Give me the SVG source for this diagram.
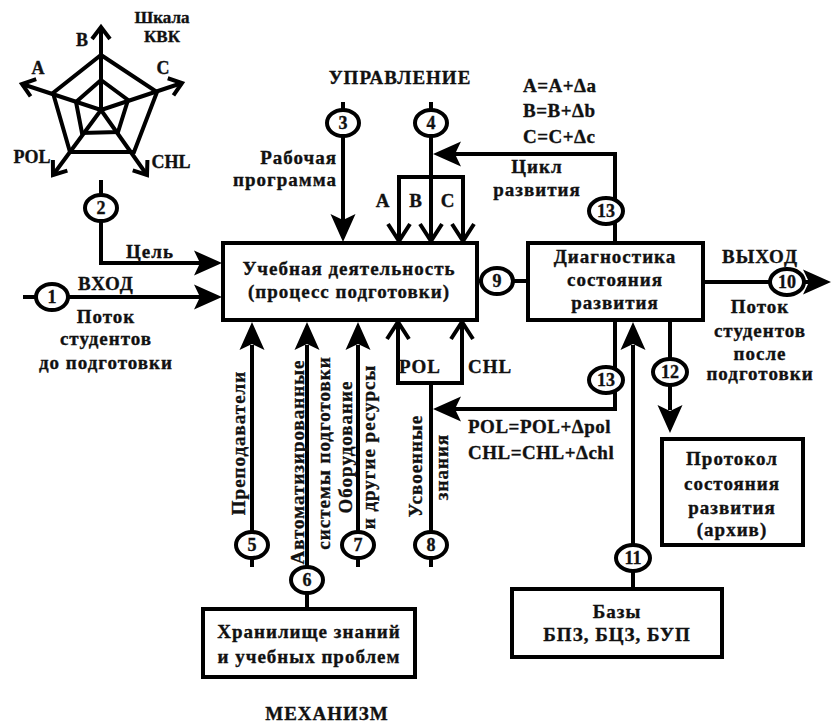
<svg xmlns="http://www.w3.org/2000/svg" width="832" height="724" viewBox="0 0 832 724">
<style>
.ln{stroke:#000;stroke-width:4;fill:none}
.bx{fill:#fff;stroke:#000;stroke-width:4}
.cir{fill:#fff;stroke:#000;stroke-width:4}
.ao{fill:none;stroke:#000;stroke-width:4;stroke-linejoin:miter}
text{font-family:"Liberation Serif","DejaVu Serif",serif;font-weight:bold;fill:#111;stroke:#111;stroke-width:0.35px}
.t{font-size:19px;letter-spacing:1px;text-anchor:middle}
.tl{font-size:19px;letter-spacing:0.5px;text-anchor:start}
.tr{font-size:19px;letter-spacing:1px;text-anchor:end}
.n{font-size:18px;text-anchor:middle}
.s{font-size:18px;text-anchor:middle}
.sk{font-size:17px;text-anchor:middle}
</style>
<defs>
<path id="af" d="M0,0 L-28,-12.5 L-22,0 L-28,12.5 Z" fill="#000"/>
<path id="ao" class="ao" d="M-17,-11 L0,0 L-17,11"/>
<path id="ar" class="ao" d="M-12,-9 L0,0 L-12,9"/>
</defs>

<g id="radar">
<polygon class="ln" points="101,55 157,92 134,152 70,152 53,93"/>
<polygon class="ln" points="101,80 128,100 118,132 82,133 76,102"/>
<path class="ln" d="M101,110 L101,27 M101,110 L182,83 M101,110 L147,175 M101,110 L53,175 M101,110 L22,84"/>
<use href="#ar" transform="translate(101,27) rotate(-90)"/>
<use href="#ar" transform="translate(182,83) rotate(-18.4)"/>
<use href="#ar" transform="translate(147,175) rotate(54.7)"/>
<use href="#ar" transform="translate(53,175) rotate(126.4)"/>
<use href="#ar" transform="translate(22,84) rotate(198.2)"/>
<text class="s" x="82" y="46">B</text>
<text class="s" x="38" y="74">A</text>
<text class="s" x="163" y="74">C</text>
<text class="s" x="32" y="163">POL</text>
<text class="s" x="171" y="168">CHL</text>
<text class="sk" x="162" y="23">Шкала</text>
<text class="sk" x="162" y="42">КВК</text>
</g>

<g id="connectors">
<path class="ln" d="M23,297 H200"/>
<use href="#af" transform="translate(222,297)"/>
<path class="ln" d="M101,180 V263 H200"/>
<use href="#af" transform="translate(222,263)"/>
<path class="ln" d="M343,102 V220"/>
<use href="#af" transform="translate(343,242) rotate(90)"/>
<path class="ln" d="M431,102 V241 M399,241 V177 H463 V241"/>
<use href="#ao" transform="translate(431,241) rotate(90)"/>
<use href="#ao" transform="translate(399,241) rotate(90)"/>
<use href="#ao" transform="translate(463,241) rotate(90)"/>
<path class="ln" d="M615,243 V154 H455"/>
<use href="#af" transform="translate(433,154) rotate(180)"/>
<path class="ln" d="M477,281 H528"/>
<path class="ln" d="M703,282 H812"/>
<use href="#af" transform="translate(831,282)"/>
<path class="ln" d="M252,567 V345"/>
<use href="#af" transform="translate(252,322) rotate(-90)"/>
<path class="ln" d="M307,609 V345"/>
<use href="#af" transform="translate(307,322) rotate(-90)"/>
<path class="ln" d="M358,567 V345"/>
<use href="#af" transform="translate(358,322) rotate(-90)"/>
<path class="ln" d="M431,567 V383 M398,322 V383 H462 V322"/>
<use href="#ao" transform="translate(398,322) rotate(-90)"/>
<use href="#ao" transform="translate(462,322) rotate(-90)"/>
<path class="ln" d="M615,320 V409 H455"/>
<use href="#af" transform="translate(433,409) rotate(180)"/>
<path class="ln" d="M633,589 V345"/>
<use href="#af" transform="translate(633,322) rotate(-90)"/>
<path class="ln" d="M670,320 V410"/>
<use href="#af" transform="translate(670,433) rotate(90)"/>
</g>

<g id="c1"><ellipse class="cir" cx="52" cy="297" rx="16" ry="13"/><text class="n" x="52" y="303">1</text></g>
<g id="c2"><ellipse class="cir" cx="101" cy="208" rx="16" ry="13"/><text class="n" x="101" y="214">2</text></g>
<g id="c3"><ellipse class="cir" cx="343" cy="123" rx="16" ry="13"/><text class="n" x="343" y="129">3</text></g>
<g id="c4"><ellipse class="cir" cx="431" cy="123" rx="16" ry="13"/><text class="n" x="431" y="129">4</text></g>
<g id="c5"><ellipse class="cir" cx="252" cy="545" rx="16" ry="13"/><text class="n" x="252" y="551">5</text></g>
<g id="c6"><ellipse class="cir" cx="307" cy="580" rx="16" ry="13"/><text class="n" x="307" y="586">6</text></g>
<g id="c7"><ellipse class="cir" cx="358" cy="545" rx="16" ry="13"/><text class="n" x="358" y="551">7</text></g>
<g id="c8"><ellipse class="cir" cx="431" cy="545" rx="16" ry="13"/><text class="n" x="431" y="551">8</text></g>
<g id="c9"><ellipse class="cir" cx="497" cy="281" rx="16" ry="13"/><text class="n" x="497" y="287">9</text></g>
<g id="c10"><ellipse class="cir" cx="787" cy="282" rx="17" ry="13"/><text class="n" x="787" y="288">10</text></g>
<g id="c11"><ellipse class="cir" cx="633" cy="558" rx="17" ry="13"/><text class="n" x="633" y="564">11</text></g>
<g id="c12"><ellipse class="cir" cx="670" cy="372" rx="17" ry="13"/><text class="n" x="670" y="378">12</text></g>
<g id="c13a"><ellipse class="cir" cx="606" cy="211" rx="17" ry="13"/><text class="n" x="606" y="217">13</text></g>
<g id="c13b"><ellipse class="cir" cx="606" cy="380" rx="17" ry="13"/><text class="n" x="606" y="386">13</text></g>

<g id="main">
<rect class="bx" x="223" y="243" width="254" height="77"/>
<text class="t" x="349" y="275">Учебная деятельность</text>
<text class="t" x="349" y="298">(процесс подготовки)</text>
</g>
<g id="diag">
<rect class="bx" x="528" y="243" width="175" height="77"/>
<text class="t" x="615" y="263">Диагностика</text>
<text class="t" x="615" y="286">состояния</text>
<text class="t" x="615" y="309">развития</text>
</g>
<g id="protocol">
<rect class="bx" x="662" y="439" width="141" height="106"/>
<text class="t" x="732" y="465">Протокол</text>
<text class="t" x="732" y="490">состояния</text>
<text class="t" x="732" y="514">развития</text>
<text class="t" x="732" y="536">(архив)</text>
</g>
<g id="bases">
<rect class="bx" x="512" y="589" width="210" height="68"/>
<text class="t" x="617" y="618">Базы</text>
<text class="t" x="617" y="641">БПЗ, БЦЗ, БУП</text>
</g>
<g id="store">
<rect class="bx" x="203" y="609" width="212" height="68"/>
<text class="t" x="309" y="638">Хранилище знаний</text>
<text class="t" x="309" y="663">и учебных проблем</text>
</g>

<g id="labels">
<text class="t" x="400" y="84">УПРАВЛЕНИЕ</text>
<text class="t" x="327" y="720">МЕХАНИЗМ</text>
<text class="t" x="150" y="258">Цель</text>
<text class="t" x="106" y="290">ВХОД</text>
<text class="t" x="106" y="323">Поток</text>
<text class="t" x="106" y="345">студентов</text>
<text class="t" x="106" y="369">до подготовки</text>
<text class="tr" x="337" y="164">Рабочая</text>
<text class="tr" x="337" y="186">программа</text>
<text class="t" x="383" y="207">A</text>
<text class="t" x="416" y="207">B</text>
<text class="t" x="448" y="207">C</text>
<text class="tl" x="523" y="92">A=A+Δa</text>
<text class="tl" x="523" y="117">B=B+Δb</text>
<text class="tl" x="523" y="143">C=C+Δc</text>
<text class="t" x="537" y="173">Цикл</text>
<text class="t" x="537" y="196">развития</text>
<text class="t" x="760" y="263">ВЫХОД</text>
<text class="t" x="760" y="313">Поток</text>
<text class="t" x="760" y="337">студентов</text>
<text class="t" x="760" y="360">после</text>
<text class="t" x="760" y="380">подготовки</text>
<text class="t" x="420" y="373">POL</text>
<text class="t" x="490" y="373">CHL</text>
<text class="tl" x="468" y="433">POL=POL+Δpol</text>
<text class="tl" x="468" y="459">CHL=CHL+Δchl</text>
<text class="t" transform="translate(245,443) rotate(-90)">Преподаватели</text>
<text class="t" transform="translate(304,462) rotate(-90)">Автоматизированные</text>
<text class="t" transform="translate(330,453) rotate(-90)">системы подготовки</text>
<text class="t" transform="translate(352,447) rotate(-90)">Оборудование</text>
<text class="t" transform="translate(375,447) rotate(-90)">и другие ресурсы</text>
<text class="t" transform="translate(422,466) rotate(-90)">Усвоенные</text>
<text class="t" transform="translate(448,467) rotate(-90)">знания</text>
</g>
</svg>
